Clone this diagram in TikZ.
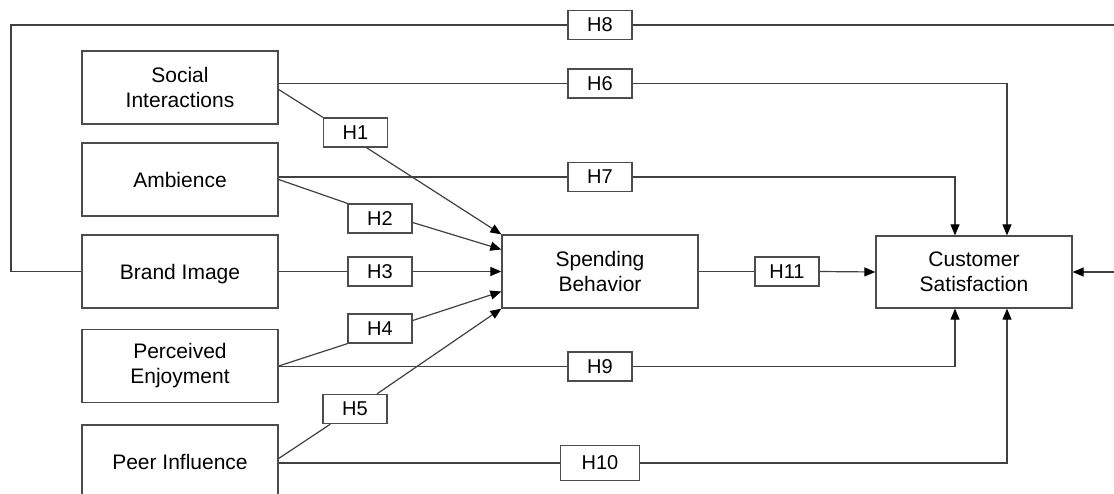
\documentclass[tikz,border=0pt]{standalone}
\usepackage{fontspec}
\setmainfont{Liberation Sans}
\usetikzlibrary{arrows.meta,calc}
\begin{document}
\begin{tikzpicture}[x=1pt,y=-1pt,
  construct/.style={draw=black!70,line width=1.3pt,fill=white,minimum width=196pt,minimum height=73pt,inner sep=0pt,align=center,font=\fontsize{21}{25}\selectfont},
  hyp/.style={draw=black!70,line width=1.3pt,fill=white,minimum width=64pt,minimum height=29pt,inner sep=0pt,font=\fontsize{20}{24}\selectfont},
  link/.style={draw=black!75,line width=1.2pt},
  arr/.style={link,-{Triangle[length=11pt,width=9pt,color=black]}}]
\useasboundingbox (0,0) rectangle (1114,493);
\clip (0,0) rectangle (1114,493);
% constructs
\node[construct] (si) at (180,87.5) {Social\\Interactions};
\node[construct] (am) at (180,179.5) {Ambience};
\node[construct,text depth=0pt] (bi) at (180,271.5) {Brand Image};
\node[construct] (pe) at (180,366) {Perceived\\Enjoyment};
\node[construct] (pi) at (180,461.5) {Peer Influence};
\node[construct] (sb) at (600,271.5) {Spending\\Behavior};
\node[construct,minimum height=72pt] (cs) at (974,272) {Customer\\Satisfaction};
% hypotheses
\node[hyp] (h1) at (355.5,132.5) {H1};
\node[hyp] (h2) at (380,218.5) {H2};
\node[hyp] (h3) at (380,271.5) {H3};
\node[hyp] (h4) at (380,328.5) {H4};
\node[hyp] (h5) at (355,409) {H5};
\node[hyp] (h6) at (600,83.5) {H6};
\node[hyp] (h7) at (600,177) {H7};
\node[hyp] (h8) at (600,25) {H8};
\node[hyp] (h9) at (600,366.5) {H9};
\node[hyp,minimum width=79pt,minimum height=35pt] (h10) at (600,463) {H10};
\node[hyp] (h11) at (787,271.5) {H11};
\coordinate (loopL) at (11,25);
\coordinate (loopR) at (1135,25);
% H1-H5 to spending behavior
\draw[link] ($(si.east)+(0,2)$) -- (h1.north west);
\draw[arr] ($(h1.south)+(11,0)$) -- (sb.north west);
\draw[link] (am.east) -- (h2.north west);
\draw[arr] ($(h2.east)+(0,4)$) -- ($(sb.west)+(0,-22)$);
\draw[link] (bi.east) -- (h3.west);
\draw[arr] (h3.east) -- (sb.west);
\draw[link] (pe.east) -- (h4.south west);
\draw[arr] ($(h4.east)+(0,-8)$) -- ($(sb.west)+(0,20)$);
\draw[link] ($(pi.east)+(0,-3)$) -- ($(h5.south west)+(8,0)$);
\draw[arr] ($(h5.north)+(22,0)$) -- (sb.south west);
% direct paths to customer satisfaction
\draw[link] (si.east |- h6.west) -- (h6.west);
\draw[arr] (h6.east) -| ($(cs.north)+(33,0)$);
\draw[link] (am.east |- h7.west) -- (h7.west);
\draw[arr] (h7.east) -| ($(cs.north)+(-19,0)$);
\draw[link] (bi.west) -| (loopL) -- (h8.west);
\draw[arr] (h8.east) -- (loopR) |- (cs.east);
\draw[link] (pe.east |- h9.west) -- (h9.west);
\draw[arr] (h9.east) -| ($(cs.south)+(-19,0)$);
\draw[link] (pi.east |- h10.west) -- (h10.west);
\draw[arr] (h10.east) -| ($(cs.south)+(33,0)$);
\draw[link] (sb.east) -- (h11.west);
\draw[arr] (h11.east) -- (cs.west);
\end{tikzpicture}
\end{document}
